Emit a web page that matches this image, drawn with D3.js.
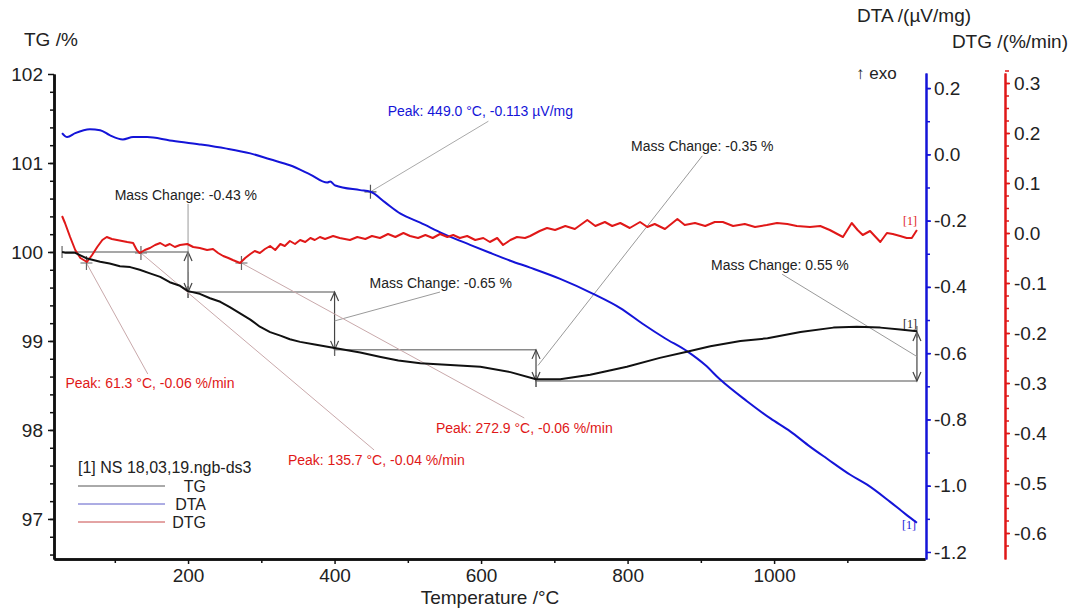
<!DOCTYPE html>
<html>
<head>
<meta charset="utf-8">
<script src="https://cdn.jsdelivr.net/npm/d3@7"></script>
<style>
  body { margin: 0; background: #fff; }
  text { font-family: "Liberation Sans", Arial, sans-serif; }
</style>
</head>
<body>
<svg id="chart" width="1077" height="611"></svg>
<script>
// ---- data ----
const tgTemp = [28, 33, 46, 61, 80, 93, 107, 121, 134, 148, 162, 175, 189, 200, 216, 230, 244, 257, 271, 285, 298, 312, 326, 339, 353, 373, 400, 435, 463, 487, 517, 558, 599, 640, 675, 708, 749, 799, 844, 881, 913, 954, 991, 1036, 1081, 1113, 1145, 1172, 1195];
const tgVal = [100.00, 99.99, 99.99, 99.93, 99.89, 99.87, 99.84, 99.83, 99.80, 99.76, 99.72, 99.66, 99.62, 99.56, 99.53, 99.48, 99.44, 99.38, 99.31, 99.24, 99.16, 99.10, 99.06, 99.02, 98.99, 98.96, 98.92, 98.87, 98.82, 98.78, 98.75, 98.73, 98.71, 98.65, 98.57, 98.57, 98.62, 98.71, 98.81, 98.88, 98.94, 99.00, 99.03, 99.10, 99.15, 99.16, 99.15, 99.13, 99.11];

const dtaTemp = [28, 35, 46, 66, 80, 93, 111, 125, 144, 175, 216, 251, 285, 312, 339, 367, 390, 394, 401, 435, 449, 469, 490, 517, 548, 585, 612, 640, 667, 708, 753, 790, 821, 851, 881, 906, 926, 963, 995, 1022, 1049, 1072, 1104, 1127, 1158, 1179, 1195];
const dtaVal = [0.064, 0.052, 0.064, 0.076, 0.073, 0.058, 0.045, 0.052, 0.052, 0.042, 0.030, 0.018, 0.003, -0.015, -0.033, -0.061, -0.085, -0.082, -0.094, -0.108, -0.113, -0.145, -0.179, -0.206, -0.239, -0.273, -0.297, -0.321, -0.342, -0.376, -0.421, -0.464, -0.512, -0.555, -0.594, -0.636, -0.679, -0.745, -0.797, -0.836, -0.882, -0.918, -0.967, -0.997, -1.048, -1.085, -1.112];

const dtgTemp = [28, 32, 39, 46, 53, 62, 69, 76, 83, 89, 96, 103, 110, 117, 125, 130, 134, 141, 148, 155, 162, 169, 175, 182, 189, 199, 207, 216, 226, 234, 241, 248, 255, 261, 271, 278, 285, 291, 298, 305, 312, 319, 326, 332, 339, 346, 353, 360, 367, 373, 380, 387, 398, 407, 421, 431, 442, 451, 462, 473, 483, 494, 503, 514, 524, 534, 544, 554, 562, 571, 581, 592, 603, 612, 622, 630, 640, 649, 660, 667, 680, 690, 701, 715, 728, 745, 756, 769, 779, 790, 803, 817, 827, 837, 851, 868, 878, 892, 906, 919, 930, 944, 960, 974, 990, 1004, 1018, 1031, 1049, 1063, 1076, 1094, 1106, 1114, 1121, 1131, 1145, 1154, 1162, 1172, 1181, 1188, 1195];
const dtgVal = [0.034, 0.020, -0.008, -0.034, -0.050, -0.058, -0.044, -0.028, -0.014, -0.008, -0.012, -0.014, -0.016, -0.018, -0.020, -0.034, -0.040, -0.034, -0.030, -0.024, -0.020, -0.026, -0.022, -0.028, -0.024, -0.022, -0.028, -0.030, -0.034, -0.032, -0.040, -0.046, -0.050, -0.054, -0.060, -0.050, -0.042, -0.036, -0.040, -0.032, -0.026, -0.034, -0.022, -0.026, -0.016, -0.022, -0.014, -0.018, -0.010, -0.014, -0.008, -0.012, -0.006, -0.010, -0.014, -0.008, -0.012, -0.006, -0.010, -0.002, -0.008, 0.000, -0.006, -0.010, -0.004, -0.010, -0.002, -0.008, -0.004, -0.010, -0.006, -0.014, -0.010, -0.018, -0.010, -0.024, -0.014, -0.008, -0.010, -0.006, 0.004, 0.010, 0.006, 0.014, 0.008, 0.026, 0.014, 0.022, 0.014, 0.020, 0.010, 0.022, 0.012, 0.018, 0.008, 0.028, 0.016, 0.020, 0.014, 0.022, 0.022, 0.014, 0.018, 0.012, 0.016, 0.020, 0.018, 0.014, 0.012, 0.014, 0.006, -0.008, 0.020, 0.006, -0.004, 0.004, -0.018, 0.000, -0.002, -0.006, -0.010, -0.010, 0.006];

// mass change steps (temperature range, TG at start and end)
const stepFrom = [28, 200, 400, 675];
const stepTo = [200, 400, 675, 1195];
const stepTgStart = [100.00, 99.55, 98.90, 98.55];
const stepTgEnd = [99.55, 98.90, 98.55, 99.10];
const stepLabels = ["Mass Change: -0.43 %", "Mass Change: -0.65 %", "Mass Change: -0.35 %", "Mass Change: 0.55 %"];

// DTG peaks
const dtgPeakTemp = [61.3, 135.7, 272.9];
const dtgPeakVal = [-0.06, -0.04, -0.06];
const dtgPeakLabels = ["Peak: 61.3 °C, -0.06 %/min", "Peak: 135.7 °C, -0.04 %/min", "Peak: 272.9 °C, -0.06 %/min"];
// DTA peak
const dtaPeakTemp = 449.0, dtaPeakVal = -0.113;
const dtaPeakLabel = "Peak: 449.0 °C, -0.113 µV/mg";

// tick labels
const tempTicks = [200, 400, 600, 800, 1000];
const tgTicks = [97, 98, 99, 100, 101, 102];
const dtaTicks = [-1.2, -1.0, -0.8, -0.6, -0.4, -0.2, 0.0, 0.2];
const dtgTicks = [-0.6, -0.5, -0.4, -0.3, -0.2, -0.1, 0.0, 0.1, 0.2, 0.3];

// ---- layout ----
const BLUE = "#1414d8", RED = "#e01818";
const plotLeft = 54, plotRight = 925, plotTop = 73, plotBottom = 559;
const svg = d3.select("#chart");

const x = d3.scaleLinear().domain([17, 1206]).range([plotLeft, plotRight]);
const yTG = d3.scaleLinear().domain([96.55, 102]).range([plotBottom, 74]);
const yDTA = d3.scaleLinear().domain([-1.2212, 0.2455]).range([plotBottom, plotTop]);
const yDTG = d3.scaleLinear().domain([-0.652, 0.32]).range([plotBottom, plotTop]);

const fmt1 = d => d.toFixed(1);
const fmt0 = d => String(d);

// axes
function styleAxis(g, color, width) {
  g.select(".domain").attr("stroke", color).attr("stroke-width", width);
  g.selectAll(".tick line").attr("stroke", color).attr("stroke-width", 1.5);
  g.selectAll(".tick text").attr("fill", "#222").style("font-size", "19px")
    .style("font-family", '"Liberation Sans", Arial, sans-serif');
}

// bottom
svg.append("g").attr("transform", `translate(0,${plotBottom})`)
  .call(d3.axisBottom(x).tickValues([100, 300, 500, 700, 900, 1100]).tickSize(4).tickFormat("").tickSizeOuter(0))
  .call(g => styleAxis(g, "#111", 2.5));
svg.append("g").attr("transform", `translate(0,${plotBottom})`)
  .call(d3.axisBottom(x).tickValues(tempTicks).tickFormat(fmt0).tickSize(5).tickPadding(5).tickSizeOuter(0))
  .call(g => styleAxis(g, "#111", 2.5));

// left
svg.append("g").attr("transform", `translate(${plotLeft},0)`)
  .call(d3.axisLeft(yTG).tickValues(d3.range(0, 27).map(i => 96.6 + i * 0.2)).tickSize(4).tickFormat("").tickSizeOuter(0))
  .call(g => styleAxis(g, "#111", 2.5));
svg.append("g").attr("transform", `translate(${plotLeft},0)`)
  .call(d3.axisLeft(yTG).tickValues(tgTicks).tickFormat(fmt0).tickSize(6).tickPadding(5).tickSizeOuter(0))
  .call(g => styleAxis(g, "#111", 2.5));

// DTA (blue)
svg.append("g").attr("transform", `translate(${plotRight + 1},0)`)
  .call(d3.axisRight(yDTA).tickValues(d3.range(0, 14).map(i => -1.1 + i * 0.1)).tickSize(4).tickFormat("").tickSizeOuter(0))
  .call(g => styleAxis(g, BLUE, 2));
svg.append("g").attr("transform", `translate(${plotRight + 1},0)`)
  .call(d3.axisRight(yDTA).tickValues(dtaTicks).tickFormat(fmt1).tickSize(5).tickPadding(3).tickSizeOuter(0))
  .call(g => styleAxis(g, BLUE, 2));

// DTG (red)
svg.append("g").attr("transform", `translate(1005,0)`)
  .call(d3.axisRight(yDTG).tickValues(d3.range(0, 39).map(i => -0.625 + i * 0.025)).tickSize(4).tickFormat("").tickSizeOuter(0))
  .call(g => styleAxis(g, RED, 2));
svg.append("g").attr("transform", `translate(1005,0)`)
  .call(d3.axisRight(yDTG).tickValues(dtgTicks).tickFormat(fmt1).tickSize(5).tickPadding(4).tickSizeOuter(0))
  .call(g => styleAxis(g, RED, 2));

// axis titles
const title = (t, px, py, anchor) => svg.append("text").attr("x", px).attr("y", py)
  .attr("text-anchor", anchor || "start").attr("fill", "#222").style("font-size", "19px").text(t);
title("TG /%", 24, 46);
title("DTA /(µV/mg)", 857, 22);
title("DTG /(%/min)", 1068, 48, "end");
title("Temperature /°C", 490, 604, "middle");
svg.append("text").attr("x", 856).attr("y", 79).attr("fill", "#222").style("font-size", "17px").text("↑ exo");

// ---- annotation helper lines (under curves) ----
const ann = svg.append("g");

// mass change steps
stepFrom.forEach((t0, i) => {
  const t1 = stepTo[i];
  const ya = yTG(stepTgStart[i]), yb = yTG(stepTgEnd[i]);
  const xa = x(t0), xb = x(t1);
  ann.append("line").attr("x1", xa).attr("x2", xb).attr("y1", ya).attr("y2", ya)
    .attr("stroke", "#8a8a8a").attr("stroke-width", 1.5);
  // start tick
  ann.append("line").attr("x1", xa).attr("x2", xa).attr("y1", ya - 6).attr("y2", ya + 6)
    .attr("stroke", "#666").attr("stroke-width", 1.2);
  // double arrow
  ann.append("line").attr("x1", xb).attr("x2", xb).attr("y1", ya).attr("y2", yb)
    .attr("stroke", "#444").attr("stroke-width", 1.2);
  [[ya, yb], [yb, ya]].forEach(([tip, other]) => {
    const dir = other > tip ? 1 : -1;
    ann.append("path")
      .attr("d", `M${xb - 4},${tip + dir * 9}L${xb},${tip}L${xb + 4},${tip + dir * 9}`)
      .attr("fill", "none").attr("stroke", "#444").attr("stroke-width", 1.2);
  });
  ann.append("line").attr("x1", xb).attr("x2", xb).attr("y1", yb - 6).attr("y2", yb + 6)
    .attr("stroke", "#666").attr("stroke-width", 1.2);
});

// mass change labels (label centre and leader end in data units)
const stepLabelT = [197, 545, 902, 1008];
const stepLabelTG = [100.64, 99.65, 101.19, 99.85];
const stepLeaderT = [200, 544, 902, 1011];
const stepLeaderTG = [100.54, 99.55, 101.08, 99.75];
stepLabels.forEach((lab, i) => {
  const xm = x(stepTo[i]) + (i === 2 ? 2 : 0);
  const ym = (yTG(stepTgStart[i]) + yTG(stepTgEnd[i])) / 2;
  ann.append("line").attr("x1", xm).attr("y1", ym)
    .attr("x2", x(stepLeaderT[i])).attr("y2", yTG(stepLeaderTG[i]))
    .attr("stroke", "#9a9a9a").attr("stroke-width", 1);
  ann.append("text").attr("x", x(stepLabelT[i])).attr("y", yTG(stepLabelTG[i]) + 5)
    .attr("text-anchor", "middle").attr("fill", "#222").style("font-size", "14px").text(lab);
});

// DTG peaks
const peakLabelT = [148, 457, 659];
const peakLabelV = [-0.30, -0.454, -0.39];
const peakLeaderT = [145, 454, 659];
const peakLeaderV = [-0.282, -0.434, -0.37];
dtgPeakTemp.forEach((t, i) => {
  const px = x(t), py = yDTG(dtgPeakVal[i]);
  ann.append("line").attr("x1", px).attr("y1", py)
    .attr("x2", x(peakLeaderT[i])).attr("y2", yDTG(peakLeaderV[i]))
    .attr("stroke", "#c9a9ab").attr("stroke-width", 1);
  ann.append("path").attr("d", `M${px - 6},${py}H${px + 6}M${px},${py - 7}V${py + 7}`)
    .attr("stroke", "#666").attr("stroke-width", 1.2);
  ann.append("text").attr("x", x(peakLabelT[i])).attr("y", yDTG(peakLabelV[i]) + 5)
    .attr("text-anchor", "middle").attr("fill", RED).style("font-size", "14px").text(dtgPeakLabels[i]);
});

// DTA peak
{
  const px = x(dtaPeakTemp), py = yDTA(dtaPeakVal);
  ann.append("line").attr("x1", px).attr("y1", py).attr("x2", x(610)).attr("y2", yDTA(0.100))
    .attr("stroke", "#aaaaaa").attr("stroke-width", 1);
  ann.append("path").attr("d", `M${px - 6},${py}H${px + 6}M${px},${py - 7}V${py + 7}`)
    .attr("stroke", "#555").attr("stroke-width", 1.2);
  ann.append("text").attr("x", x(599)).attr("y", yDTA(0.130) + 5)
    .attr("text-anchor", "middle").attr("fill", BLUE).style("font-size", "14px").text(dtaPeakLabel);
}

// ---- curves ----
const curve = (temps, vals, ys, color, c) => svg.append("path")
  .datum(temps.map((t, i) => [t, vals[i]]))
  .attr("fill", "none").attr("stroke", color).attr("stroke-width", 2)
  .attr("stroke-linejoin", "round")
  .attr("d", d3.line().x(d => x(d[0])).y(d => ys(d[1])).curve(c));

curve(dtaTemp, dtaVal, yDTA, BLUE, d3.curveMonotoneX);
curve(dtgTemp, dtgVal, yDTG, RED, d3.curveLinear);
curve(tgTemp, tgVal, yTG, "#111", d3.curveLinear);

// [1] end labels
const endLabel = (px, py, color) => svg.append("text").attr("x", px).attr("y", py)
  .attr("text-anchor", "end").attr("fill", color)
  .style("font-family", '"Liberation Serif", "Times New Roman", serif').style("font-size", "12px").text("[1]");
endLabel(x(dtgTemp[dtgTemp.length - 1]), yDTG(dtgVal[dtgVal.length - 1]) - 5, RED);
endLabel(x(tgTemp[tgTemp.length - 1]), yTG(tgVal[tgVal.length - 1]) - 3, "#222");
endLabel(x(dtaTemp[dtaTemp.length - 1]) - 1, yDTA(dtaVal[dtaVal.length - 1]) + 6, BLUE);

// ---- legend ----
const leg = svg.append("g");
leg.append("text").attr("x", 78).attr("y", 473).attr("fill", "#222").style("font-size", "16px")
  .text("[1] NS 18,03,19.ngb-ds3");
const legNames = ["TG", "DTA", "DTG"];
const legColors = ["#555", "#5a5ac8", "#c84848"];
legNames.forEach((n, i) => {
  const yy = 486 + i * 18;
  leg.append("line").attr("x1", 78).attr("x2", 165).attr("y1", yy).attr("y2", yy)
    .attr("stroke", legColors[i]).attr("stroke-width", 1);
  leg.append("text").attr("x", 206).attr("y", yy + 6).attr("text-anchor", "end")
    .attr("fill", "#222").style("font-size", "16px").text(n);
});
</script>
</body>
</html>
